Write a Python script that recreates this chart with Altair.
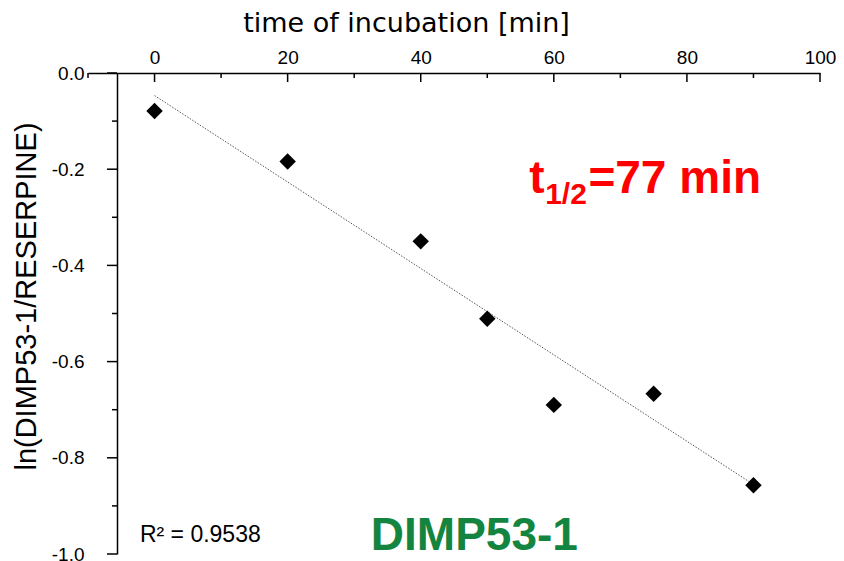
import altair as alt
import pandas as pd

# ---- data ----
time_min = [0, 20, 40, 50, 60, 75, 90]
ln_ratio = [-0.079, -0.184, -0.350, -0.511, -0.690, -0.667, -0.857]

x_major = [0, 20, 40, 60, 80, 100]
x_minor = [-10, 10, 30, 50, 70, 90]
y_major = [0.0, -0.2, -0.4, -0.6, -0.8, -1.0]
y_minor = [-0.1, -0.3, -0.5, -0.7, -0.9]

# annotation texts (anchored in data space)
half_text = ["t", "1/2", "=77 min"]
half_x = [56.3, 58.7, 65.2]
half_y = [-0.2495, -0.272, -0.2495]
half_size = [46, 30, 46]

name_text = ["DIMP53-1"]
name_x = [32.5]
name_y = [-0.992]

r2_text = ["R\u00b2 = 0.9538"]
r2_x = [-2.2]
r2_y = [-0.976]

FONT = "Liberation Sans"

pts = pd.DataFrame({"t": time_min, "y": ln_ratio})
xmaj = pd.DataFrame({"t": x_major})
xmin = pd.DataFrame({"t": x_minor})
ymaj = pd.DataFrame({"y": y_major})
ymin = pd.DataFrame({"y": y_minor})
half_df = pd.DataFrame({"txt": half_text, "t": half_x, "y": half_y, "s": half_size})
name_df = pd.DataFrame({"txt": name_text, "t": name_x, "y": name_y})
r2_df = pd.DataFrame({"txt": r2_text, "t": r2_x, "y": r2_y})

xscale = alt.Scale(domain=[-10, 100], nice=False, zero=False)
yscale = alt.Scale(domain=[-1.0, 0.0], nice=False, zero=False)

x_axis = alt.Axis(
    orient="top", values=x_major, title="time of incubation [min]",
    ticks=False, tickSize=0, grid=False, labelPadding=10,
    labelFont=FONT, labelFontSize=19, labelColor="black",
    labelBaseline="alphabetic", labelFlush=False,
    titleFont="DejaVu Sans", titleFontSize=27, titleFontWeight="normal", titleColor="black",
    titleAnchor="start", titleAlign="center", titleX=318, titleY=-42,
    titleBaseline="alphabetic",
    domainColor="black", domainWidth=1.5,
)

y_axis = alt.Axis(
    orient="left", offset=-29, values=y_major,
    labelExpr="(datum.value < 0 ? '-' : '') + format(abs(datum.value), '.1f')",
    ticks=False, tickSize=0, grid=False, labelPadding=33,
    labelFont=FONT, labelFontSize=19, labelColor="black", labelFlush=False,
    title="ln(DIMP53-1/RESERPINE)",
    titleFont=FONT, titleFontSize=29, titleFontWeight="normal", titleColor="black",
    titleAnchor="start", titleAlign="center", titleAngle=270,
    titleX=-82, titleY=223, titleBaseline="alphabetic",
    domainColor="black", domainWidth=1.5,
)

points = alt.Chart(pts).mark_point(
    shape="diamond", filled=True, color="black", size=270, opacity=1
).encode(
    x=alt.X("t:Q", scale=xscale, axis=x_axis),
    y=alt.Y("y:Q", scale=yscale, axis=y_axis),
)

trend = alt.Chart(pts).transform_regression(
    "t", "y", extent=[0, 90]
).mark_line(color="#555555", strokeWidth=1, strokeDash=[1.5, 1.5]).encode(
    x=alt.X("t:Q", scale=xscale),
    y=alt.Y("y:Q", scale=yscale),
)

xt_major = alt.Chart(xmaj).mark_rule(color="black", strokeWidth=1.5).encode(
    x=alt.X("t:Q", scale=xscale), y=alt.value(0), y2=alt.value(9)
)
xt_minor = alt.Chart(xmin).mark_rule(color="black", strokeWidth=1.5).encode(
    x=alt.X("t:Q", scale=xscale), y=alt.value(0), y2=alt.value(5)
)
yt_major = alt.Chart(ymaj).mark_rule(color="black", strokeWidth=1.5).encode(
    y=alt.Y("y:Q", scale=yscale), x=alt.value(19), x2=alt.value(29)
)
yt_minor = alt.Chart(ymin).mark_rule(color="black", strokeWidth=1.5).encode(
    y=alt.Y("y:Q", scale=yscale), x=alt.value(24), x2=alt.value(29)
)

half = alt.Chart(half_df).mark_text(
    font=FONT, fontWeight="bold", color="#ff0000", align="left", baseline="alphabetic"
).encode(
    x=alt.X("t:Q", scale=xscale), y=alt.Y("y:Q", scale=yscale),
    text="txt:N", size=alt.Size("s:Q", scale=None, legend=None),
)

name = alt.Chart(name_df).mark_text(
    font=FONT, fontWeight="bold", color="#148540", fontSize=46,
    align="left", baseline="alphabetic"
).encode(
    x=alt.X("t:Q", scale=xscale), y=alt.Y("y:Q", scale=yscale), text="txt:N"
)

r2 = alt.Chart(r2_df).mark_text(
    font=FONT, color="black", fontSize=23, align="left", baseline="alphabetic"
).encode(
    x=alt.X("t:Q", scale=xscale), y=alt.Y("y:Q", scale=yscale), text="txt:N"
)

chart = alt.layer(
    trend, points, xt_major, xt_minor, yt_major, yt_minor, half, name, r2
).properties(
    width=732, height=481,
    autosize=alt.AutoSizeParams(type="none"),
    padding={"left": 80, "top": 65, "right": 16, "bottom": 7},
).configure_view(stroke=None)

chart.save("out.html", embed_options={"renderer": "svg", "actions": False})
